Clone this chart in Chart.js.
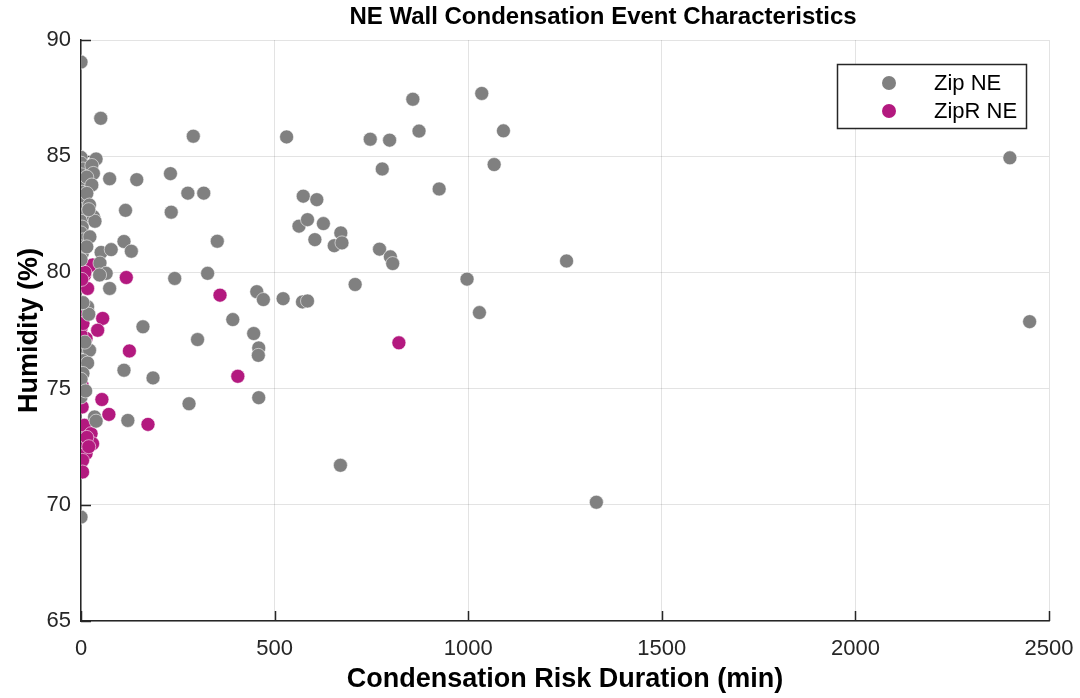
<!DOCTYPE html>
<html lang="en">
  <head>
    <meta charset="UTF-8" />
    <title>NE Wall Condensation Event Characteristics</title>
    <script src="https://cdn.jsdelivr.net/npm/chart.js"></script>
    <style>
      body {
        margin: 0;
        background: #fff;
      }
      .chart-container {
        width: 1080px;
        height: 698px;
      }
    </style>
  </head>
  <body>
    <div class="chart-container">
      <canvas id="scatterChart" width="1080" height="698"></canvas>
    </div>

    <script>
      // Zip NE events: duration (min) and humidity (%)
      const zipX = [
        0, 51, 290, 39, 74, 144, 231, 276, 317, 115, 233, 352, 52, 78, 111, 130,
        0, 0, 5, 0, 8, 0, 3, 0, 5, 0, 8, 0, 3, 0, 5, 0, 3, 0,
        28, 32, 15, 28, 15, 22, 32, 36, 23, 15, 20, 49,
        65, 48, 74, 242, 327, 454, 392, 160, 301, 111, 186, 279, 121, 35, 39, 17, 0,
        9, 22, 5, 17, 5, 0, 10, 0, 12, 20, 5,
        531, 857, 1035, 747, 797, 873, 1091, 778, 1067, 925, 574, 609, 563, 585,
        626, 604, 671, 654, 674, 771, 799, 805, 997, 708, 471, 522, 572, 585,
        1029, 446, 459, 458, 459, 670,
        2399, 2450, 1254, 1331,
      ];
      const zipY = [
        89.05, 86.63, 85.86, 84.88, 84.03, 83.99, 84.25, 83.41, 83.41, 82.67, 82.59, 81.34, 80.86, 80.98, 81.33, 80.91,
        84.95, 84.7, 84.45, 84.2, 83.95, 83.7, 83.45, 83.2, 82.95, 82.7, 82.45, 82.2, 81.95, 81.7, 81.4, 81.1, 80.8, 80.55,
        84.6, 84.26, 84.1, 83.76, 83.4, 82.9, 82.4, 82.2, 81.53, 81.1, 82.7, 80.4,
        79.96, 79.89, 79.31, 79.74, 79.96, 79.17, 77.97, 77.66, 77.11, 75.79, 75.46, 74.35, 73.63, 73.78, 73.6, 78.52, 69.47,
        76.8, 76.65, 76.2, 76.1, 75.65, 75.4, 77.0, 74.64, 74.9, 78.2, 78.7,
        85.83, 87.45, 87.7, 85.73, 85.69, 86.08, 86.09, 84.45, 84.64, 83.59, 83.28, 83.13, 81.99, 82.27,
        82.1, 81.41, 81.7, 81.15, 81.27, 81.0, 80.67, 80.38, 79.71, 79.48, 78.83, 78.87, 78.73, 78.77,
        78.27, 77.37, 76.75, 76.43, 74.61, 71.7,
        84.93, 77.88, 80.49, 70.11,
      ];

      // ZipR NE events
      const zipRX = [
        0, 30, 9, 4, 17, 117, 359, 0, 56, 43, 0, 13, 0, 125, 405, 821,
        3, 0, 3, 54, 72, 173, 9, 26, 30, 0, 13, 4, 4, 10, 2, 5, 0, 15, 20,
      ];
      const zipRY = [
        80.25, 80.32, 79.88, 79.45, 79.31, 79.78, 79.02, 78.38, 78.02, 77.51, 77.59, 77.16, 77.3, 76.62, 75.53, 76.97,
        75.14, 74.78, 74.21, 74.53, 73.89, 73.46, 73.42, 73.06, 72.63, 72.41, 72.2, 71.91, 71.41, 80.0, 79.7, 77.8, 75.0, 72.9, 72.5,
      ];

      const xTicks = [0, 500, 1000, 1500, 2000, 2500];
      const yTicks = [65, 70, 75, 80, 85, 90];

      const chartTitle = "NE Wall Condensation Event Characteristics";
      const seriesNames = ["Zip NE", "ZipR NE"];
      const seriesColors = ["#808080", "#b3197f"];

      const axisColor = "#262626";
      const gridColor = "rgba(38, 38, 38, 0.13)";
      const fontFamily = "Arial, 'Liberation Sans', Helvetica, sans-serif";

      function toPoints(xs, ys) {
        return xs.map((x, i) => ({ x: x, y: ys[i] }));
      }

      // MATLAB style inward tick marks on the left and bottom axes
      const inwardTicks = {
        id: "inwardTicks",
        beforeDatasetsDraw(chart) {
          const { ctx, chartArea, scales } = chart;
          const len = 10;
          ctx.save();
          ctx.strokeStyle = axisColor;
          ctx.lineWidth = 1.5;
          ctx.beginPath();
          xTicks.forEach((v) => {
            const px = Math.round(scales.x.getPixelForValue(v)) + 0.5;
            ctx.moveTo(px, chartArea.bottom);
            ctx.lineTo(px, chartArea.bottom - len);
          });
          yTicks.forEach((v) => {
            const py = Math.round(scales.y.getPixelForValue(v)) + 0.5;
            ctx.moveTo(chartArea.left, py);
            ctx.lineTo(chartArea.left + len, py);
          });
          ctx.stroke();
          ctx.restore();
        },
      };

      // title sits a bit right of the axes centre in the original
      const plotTitle = {
        id: "plotTitle",
        afterDraw(chart) {
          const { ctx, chartArea } = chart;
          ctx.save();
          ctx.font = "bold 24px " + fontFamily;
          ctx.fillStyle = "#000";
          ctx.textAlign = "center";
          ctx.textBaseline = "middle";
          ctx.fillText(chartTitle, (chartArea.left + chartArea.right) / 2 + 38, 17);
          ctx.restore();
        },
      };

      // boxed legend in the upper right of the axes
      const boxLegend = {
        id: "boxLegend",
        afterDraw(chart) {
          const { ctx, chartArea } = chart;
          const w = 189;
          const h = 64;
          const left = chartArea.right - 23 - w;
          const top = chartArea.top + 24;
          ctx.save();
          ctx.fillStyle = "#fff";
          ctx.fillRect(left, top, w, h);
          ctx.strokeStyle = axisColor;
          ctx.lineWidth = 1.5;
          ctx.strokeRect(left + 0.5, top + 0.5, w, h);
          ctx.font = "22px " + fontFamily;
          ctx.textBaseline = "middle";
          chart.data.datasets.forEach((ds, i) => {
            const cy = top + 19 + i * 28;
            ctx.fillStyle = ds.backgroundColor;
            ctx.beginPath();
            ctx.arc(left + 52, cy, 7, 0, Math.PI * 2);
            ctx.fill();
            ctx.fillStyle = "#000";
            ctx.fillText(ds.label, left + 97, cy + 1);
          });
          ctx.restore();
        },
      };

      new Chart(document.getElementById("scatterChart"), {
        type: "scatter",
        data: {
          datasets: [
            {
              label: seriesNames[0],
              data: toPoints(zipX, zipY),
              backgroundColor: seriesColors[0],
              borderColor: "rgba(255, 255, 255, 0.55)",
              borderWidth: 1,
              pointRadius: 7,
              pointHoverRadius: 7,
            },
            {
              label: seriesNames[1],
              data: toPoints(zipRX, zipRY),
              backgroundColor: seriesColors[1],
              borderColor: "rgba(255, 255, 255, 0.55)",
              borderWidth: 1,
              pointRadius: 7,
              pointHoverRadius: 7,
            },
          ],
        },
        options: {
          responsive: false,
          animation: false,
          devicePixelRatio: 1,
          layout: {
            padding: { left: 0, right: 31, top: 40, bottom: 0 },
          },
          plugins: {
            legend: { display: false },
            tooltip: { enabled: false },
          },
          scales: {
            x: {
              type: "linear",
              position: "bottom",
              min: 0,
              max: 2500,
              afterBuildTicks: (s) => {
                s.ticks = xTicks.map((v) => ({ value: v }));
              },
              afterFit: (s) => {
                s.height = 77;
                s.paddingLeft = 0;
                s.paddingRight = 0;
              },
              grid: { color: gridColor, drawTicks: false },
              border: { color: axisColor, width: 1.5 },
              ticks: {
                color: axisColor,
                font: { family: fontFamily, size: 22 },
                padding: 15,
                maxRotation: 0,
                callback: (v) => String(v),
              },
              title: {
                display: true,
                text: "Condensation Risk Duration (min)",
                color: "#000",
                font: { family: fontFamily, size: 27, weight: "bold" },
                padding: { top: 0, bottom: 2 },
              },
            },
            y: {
              type: "linear",
              min: 65,
              max: 90,
              afterBuildTicks: (s) => {
                s.ticks = yTicks.map((v) => ({ value: v }));
              },
              afterFit: (s) => {
                s.width = 81;
                s.paddingTop = 0;
                s.paddingBottom = 0;
              },
              grid: { color: gridColor, drawTicks: false },
              border: { color: axisColor, width: 1.5 },
              ticks: {
                color: axisColor,
                font: { family: fontFamily, size: 22 },
                padding: 10,
              },
              title: {
                display: true,
                text: "Humidity (%)",
                color: "#000",
                font: { family: fontFamily, size: 27, weight: "bold" },
                padding: { top: 13, bottom: 0 },
              },
            },
          },
        },
        plugins: [inwardTicks, plotTitle, boxLegend],
      });
    </script>
  </body>
</html>
